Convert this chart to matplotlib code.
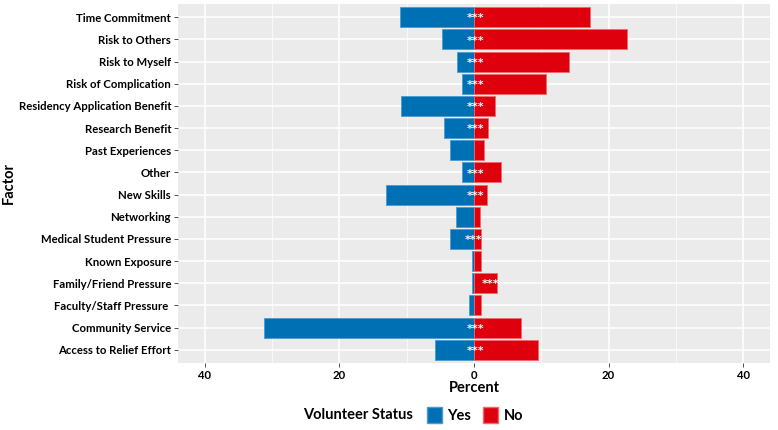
import numpy as np
import matplotlib
matplotlib.use("Agg")
import matplotlib.pyplot as plt
from matplotlib.patches import Patch

plt.rcParams['font.family'] = ['Lato', 'DejaVu Sans']
plt.rcParams['font.weight'] = 'bold'

# data, top to bottom as in the chart
factors = ['Time Commitment', 'Risk to Others', 'Risk to Myself', 'Risk of Complication',
           'Residency Application Benefit', 'Research Benefit', 'Past Experiences', 'Other',
           'New Skills', 'Networking', 'Medical Student Pressure', 'Known Exposure',
           'Family/Friend Pressure', 'Faculty/Staff Pressure ', 'Community Service',
           'Access to Relief Effort']
yes_pct = [11.0, 4.8, 2.5, 1.8, 10.8, 4.4, 3.6, 1.8, 13.1, 2.7, 3.6, 0.35, 0.3, 0.7, 31.2, 5.75]
no_pct = [17.2, 22.7, 14.1, 10.7, 3.1, 2.1, 1.5, 4.0, 1.9, 0.9, 1.1, 1.1, 3.4, 1.1, 7.0, 9.5]
signif = ['***', '***', '***', '***', '***', '***', '', '***',
          '***', '', '***', '', '***', '', '***', '***']
star_x = [0.2, 0.2, 0.2, 0.2, 0.2, 0.2, 0, 0.2, 0.2, 0, -0.1, 0, 2.5, 0, 0.2, 0.2]

c_yes = '#0070B4'
c_no = '#DF000D'

fig = plt.figure(figsize=(7.78, 4.30), dpi=100)
ax = fig.add_axes([178 / 778, 1 - 363 / 430, (770 - 178) / 778, (363 - 4) / 430])
ax.set_facecolor('#EBEBEB')

y = np.arange(len(factors))[::-1]
ax.barh(y, -np.array(yes_pct), height=0.9, color=c_yes, edgecolor='#4C9AD0', linewidth=0.6, zorder=3)
ax.barh(y, no_pct, height=0.9, color=c_no, edgecolor='#EE6A6A', linewidth=0.6, zorder=3)

for yi, s, sx in zip(y, signif, star_x):
    if s:
        ax.text(sx, yi - 0.05, s, color='white', fontsize=8, ha='center', va='center',
                family='DejaVu Sans', zorder=4)

ax.set_xlim(-44, 44)
ax.set_ylim(-0.6, len(factors) - 0.4)
ax.set_xticks([-40, -20, 0, 20, 40])
ax.set_xticklabels(['40', '20', '0', '20', '40'])
ax.set_xticks([-30, -10, 10, 30], minor=True)
ax.set_yticks(y)
ax.set_yticklabels(factors)

ax.grid(which='major', color='white', linewidth=1.1, zorder=0)
ax.grid(which='minor', axis='x', color='white', linewidth=0.5, zorder=0)
ax.set_axisbelow(True)
for sp in ax.spines.values():
    sp.set_visible(False)
ax.tick_params(which='major', length=3, width=0.6, color='#333333', labelsize=8.2,
               labelcolor='black', pad=2)
ax.tick_params(which='minor', length=0)

ax.set_xlabel('Percent', fontsize=10.5, fontweight='bold', labelpad=0)
fig.text(9 / 778, 1 - 183 / 430, 'Factor', fontsize=10.5, fontweight='bold',
         rotation=90, ha='center', va='center')

fig.text(358 / 778, 1 - 415 / 430, 'Volunteer Status', fontsize=10.5, fontweight='bold',
         ha='center', va='center')
handles = [Patch(facecolor=c_yes, edgecolor='#4C9AD0'), Patch(facecolor=c_no, edgecolor='#EE6A6A')]
fig.legend(handles, ['Yes', 'No'], ncol=2, loc='center left',
           bbox_to_anchor=(414 / 778, 1 - 415 / 430), frameon=False,
           handlelength=1.0, handleheight=1.4, handletextpad=0.4, columnspacing=0.8,
           prop={'size': 10.5, 'weight': 'bold'})

fig.savefig('out.png', dpi=100)
